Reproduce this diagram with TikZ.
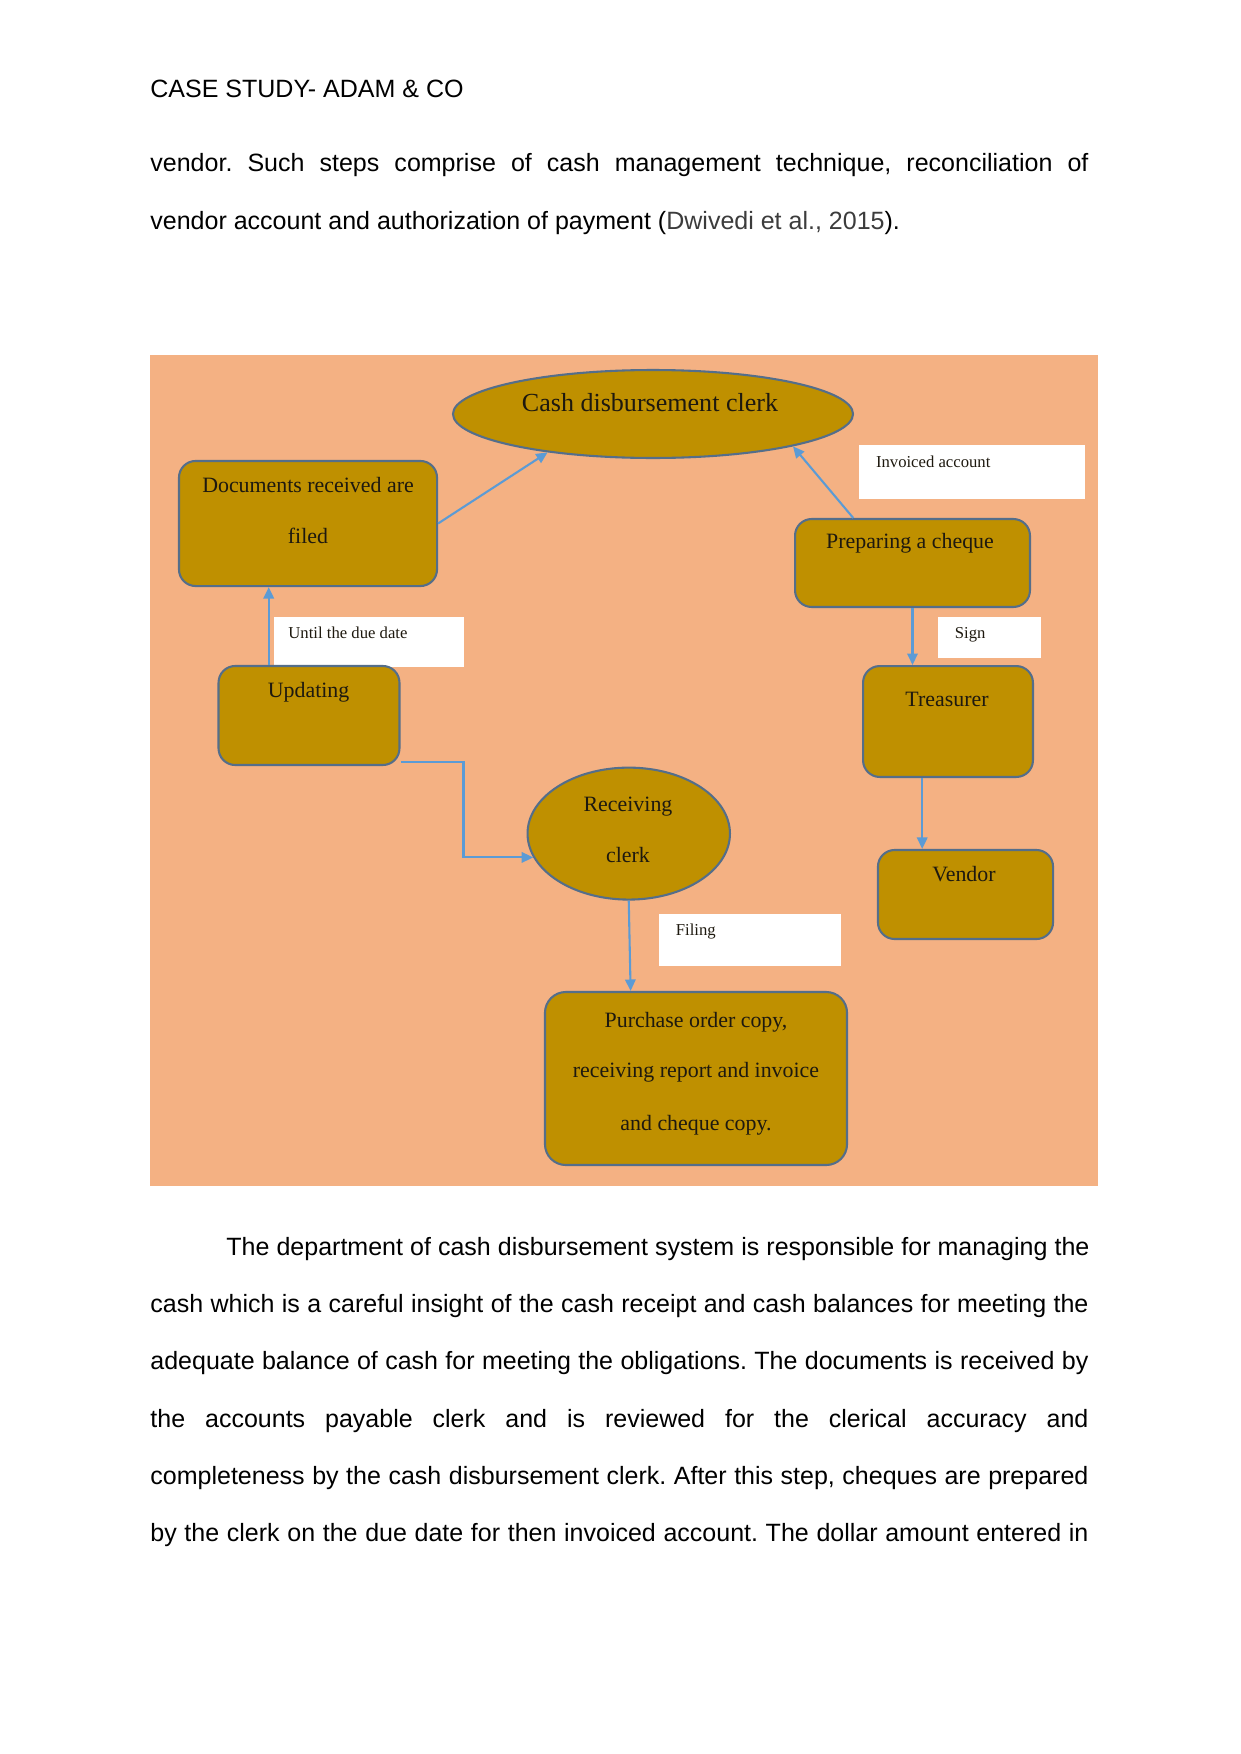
\documentclass[tikz,border=0pt]{standalone}
\usepackage{fontspec}
\setmainfont{Liberation Sans}
\newfontfamily\diagfont{Liberation Serif}
\usetikzlibrary{arrows.meta,calc,shapes.geometric}
\definecolor{bgorange}{RGB}{244,177,131}
\definecolor{boxfill}{RGB}{191,144,0}
\definecolor{boxline}{RGB}{84,110,138}
\definecolor{arrowblue}{RGB}{91,155,213}
\definecolor{txtdark}{RGB}{30,25,15}
\definecolor{citegray}{RGB}{60,60,60}
\frenchspacing
\begin{document}
\begin{tikzpicture}[x=0.4797pt,y=-0.4797pt,
  bodytext/.style={anchor=base west,inner sep=0,font=\fontsize{12}{14}\selectfont},
  gbox/.style={draw=boxline,line width=1pt,fill=boxfill,rounded corners=8pt,inner sep=0},
  gell/.style={ellipse,draw=boxline,line width=1pt,fill=boxfill,inner sep=0},
  wbox/.style={fill=white,inner sep=0},
  dtext/.style={anchor=base,inner sep=0,font=\diagfont\fontsize{10.5}{12}\selectfont,text=txtdark},
  ltext/.style={anchor=base west,inner sep=0,font=\diagfont\fontsize{8}{10}\selectfont,text=txtdark},
  arr/.style={draw=arrowblue,line width=1pt,-{Triangle[length=5.5pt,width=5pt]}}]
\useasboundingbox (0,0) rectangle (1241,1754);
\fill[white] (0,0) rectangle (1241,1754);

% page text
\node[bodytext] (hdr) at (150,97.5) {CASE STUDY- ADAM \& CO};
\node[bodytext] (a1) at (150,171.5) {\makebox[450pt][s]{vendor. Such steps comprise of cash management technique, reconciliation of}};
\node[bodytext] (a2) at (150,229) {vendor account and authorization of payment ({\color{citegray}Dwivedi et al., 2015}).};

% diagram background
\fill[bgorange] (150,355) rectangle (1098,1186);

% white label boxes
\node[wbox,minimum width=108.4pt,minimum height=25.9pt] (invbox) at (972,472) {};
\node[wbox,minimum width=90.9pt,minimum height=24pt] (untilbox) at (369,642) {};
\node[wbox,minimum width=49.4pt,minimum height=19.7pt] (signbox) at (989.5,637.5) {};
\node[wbox,minimum width=87.3pt,minimum height=24.9pt] (filbox) at (750,940) {};
\node[ltext] (invT) at (875.6,467.5) {Invoiced account};
\node[ltext] (untilT) at (288,638.5) {Until the due date};
\node[ltext] (signT) at (954.5,638.5) {Sign};
\node[ltext] (filT) at (675.5,935) {Filing};

% shapes
\node[gell,minimum width=191.9pt,minimum height=42.2pt] (cash) at (653,414) {};
\node[dtext,font=\diagfont\fontsize{12.5}{14}\selectfont] (cashT) at (650,411) {Cash disbursement clerk};

\node[gbox,minimum width=123.8pt,minimum height=60pt] (docs) at (308,523.5) {};
\node[dtext] (docsT1) at (308,492) {Documents received are};
\node[dtext] (docsT2) at (308,543) {filed};

\node[gbox,minimum width=112.7pt,minimum height=42.2pt] (prep) at (912.5,563) {};
\node[dtext] (prepT) at (910,548) {Preparing a cheque};

\node[gbox,minimum width=86.8pt,minimum height=47.5pt] (upd) at (309,715.5) {};
\node[dtext] (updT) at (308.6,697) {Updating};

\node[gbox,minimum width=81.5pt,minimum height=53.2pt] (treas) at (948,721.5) {};
\node[dtext] (treasT) at (947,706) {Treasurer};

\node[gbox,minimum width=84pt,minimum height=42.7pt] (vend) at (965.5,894.5) {};
\node[dtext] (vendT) at (964,881) {Vendor};

\node[gell,minimum width=97.1pt,minimum height=63.3pt] (recv) at (628.75,833.6) {};
\node[dtext] (recvT1) at (628,811) {Receiving};
\node[dtext] (recvT2) at (628,862) {clerk};

\node[gbox,rounded corners=10pt,minimum width=144.9pt,minimum height=83pt] (purch) at (696,1078.5) {};
\node[dtext] (purchT1) at (696,1027) {Purchase order copy,};
\node[dtext] (purchT2) at (696,1077) {receiving report and invoice};
\node[dtext] (purchT3) at (696,1130) {and cheque copy.};

% connectors
\draw[arr] (docs.east) -- (cash.200);
\draw[arr] ($(prep.north west)!0.25!(prep.north east)$) -- (cash.347);
\path ($(upd.north west)!0.28!(upd.north east)$) coordinate (ua);
\draw[arr] (ua) -- (ua |- docs.south);
\draw[arr] (prep.south) -- (prep.south |- treas.north);
\path ($(treas.south west)!0.35!(treas.south east)$) coordinate (ta);
\draw[arr] (ta) -- (ta |- vend.north);
\draw[arr] ($(upd.south east)+(0,-4)$) -- ++(63,0) |- (recv.194);
\draw[arr] (recv.south) -- ($(purch.north west)!0.285!(purch.north east)$);

% paragraph below
\node[bodytext] (b1) at (226,1255) {\makebox[414pt][s]{The department of cash disbursement system is responsible for managing the}};
\node[bodytext] (b2) at (150,1312.4) {\makebox[450pt][s]{cash which is a careful insight of the cash receipt and cash balances for meeting the}};
\node[bodytext] (b3) at (150,1369.7) {\makebox[450pt][s]{adequate balance of cash for meeting the obligations. The documents is received by}};
\node[bodytext] (b4) at (150,1427) {\makebox[450pt][s]{the accounts payable clerk and is reviewed for the clerical accuracy and}};
\node[bodytext] (b5) at (150,1484.4) {\makebox[450pt][s]{completeness by the cash disbursement clerk. After this step, cheques are prepared}};
\node[bodytext] (b6) at (150,1541.8) {\makebox[450pt][s]{by the clerk on the due date for then invoiced account. The dollar amount entered in}};
\end{tikzpicture}
\end{document}
